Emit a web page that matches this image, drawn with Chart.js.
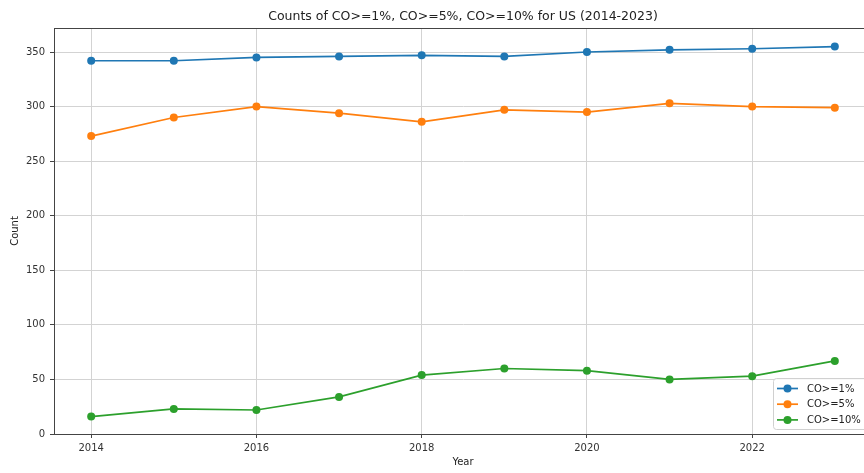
<!DOCTYPE html>
<html>
<head>
<meta charset="utf-8">
<script src="https://cdn.jsdelivr.net/npm/chart.js@4/dist/chart.umd.min.js"></script>
<style>
  html, body { margin: 0; padding: 0; background: #fff; overflow: hidden; }
  #wrap { width: 864px; height: 473px; overflow: hidden; }
  canvas { display: block; }
</style>
</head>
<body>
<div id="wrap"><canvas id="c" width="880" height="473" style="width:880px;height:473px"></canvas></div>
<script>
// Yearly counts by CO threshold, US
const years = [2014, 2015, 2016, 2017, 2018, 2019, 2020, 2021, 2022, 2023];
const co1 = [342, 342, 345, 346, 347, 346, 350, 352, 353, 355];
const co5 = [273, 290, 300, 294, 286, 297, 295, 303, 300, 299];
const co10 = [16, 23, 22, 34, 54, 60, 58, 50, 53, 67];
const seriesLabels = ['CO>=1%', 'CO>=5%', 'CO>=10%'];
const xTicks = [2014, 2016, 2018, 2020, 2022];
const yTicks = [0, 50, 100, 150, 200, 250, 300, 350];

const colors = ['#1f77b4', '#ff7f0e', '#2ca02c'];
const FONT = 'DejaVu Sans';

function pts(vals) { return years.map((x, i) => ({ x: x, y: vals[i] })); }

const datasets = [co1, co5, co10].map((vals, i) => ({
  label: seriesLabels[i],
  data: pts(vals),
  borderColor: colors[i],
  backgroundColor: colors[i],
  borderWidth: 1.7,
  pointRadius: 4,
  pointHoverRadius: 4,
  pointBorderWidth: 0,
  tension: 0
}));

// Frame around the plotting area plus an in-axes legend, matplotlib style
const frameAndLegend = {
  id: 'frameAndLegend',
  afterDraw(chart) {
    const ctx = chart.ctx;
    const a = chart.chartArea;
    ctx.save();
    ctx.strokeStyle = '#444';
    ctx.lineWidth = 1;
    ctx.strokeRect(a.left + 0.5, a.top + 0.5, a.right - a.left, a.bottom - a.top);

    // legend box anchored to lower-right of the axes
    const w = 94, h = 51;
    const x0 = a.right - 5 - w, y0 = a.bottom - 5 - h;
    ctx.fillStyle = 'rgba(255,255,255,0.85)';
    ctx.strokeStyle = '#d0d0d0';
    ctx.beginPath();
    if (ctx.roundRect) ctx.roundRect(x0 + 0.5, y0 + 0.5, w, h, 3); else ctx.rect(x0 + 0.5, y0 + 0.5, w, h);
    ctx.fill();
    ctx.stroke();
    ctx.font = '10px "' + FONT + '"';
    ctx.textBaseline = 'middle';
    ctx.textAlign = 'left';
    chart.data.datasets.forEach((ds, i) => {
      const cy = y0 + 10.5 + i * 15.7;
      ctx.strokeStyle = ds.borderColor;
      ctx.lineWidth = 1.7;
      ctx.beginPath();
      ctx.moveTo(x0 + 4, cy);
      ctx.lineTo(x0 + 25, cy);
      ctx.stroke();
      ctx.fillStyle = ds.backgroundColor;
      ctx.beginPath();
      ctx.arc(x0 + 14.5, cy, 4, 0, Math.PI * 2);
      ctx.fill();
      ctx.fillStyle = '#222';
      ctx.fillText(ds.label, x0 + 34, cy + 0.5);
    });
    ctx.restore();
  }
};

new Chart(document.getElementById('c'), {
  type: 'line',
  data: { datasets: datasets },
  plugins: [frameAndLegend],
  options: {
    responsive: false,
    devicePixelRatio: 1,
    animation: false,
    layout: { padding: { left: 0, right: 8, top: 0, bottom: 0 } },
    plugins: {
      legend: { display: false },
      tooltip: { enabled: false },
      title: {
        display: true,
        fullSize: false,
        text: 'Counts of CO>=1%, CO>=5%, CO>=10% for US (2014-2023)',
        color: '#222',
        font: { family: FONT, size: 12.5, weight: 'normal', lineHeight: 1.2 },
        padding: { top: 9, bottom: 4 }
      }
    },
    scales: {
      x: {
        type: 'linear',
        min: 2013.55,
        max: 2023.45,
        afterBuildTicks(scale) { scale.ticks = xTicks.map(v => ({ value: v })); },
        afterFit(scale) { scale.height = 39; },
        ticks: {
          color: '#333',
          font: { family: FONT, size: 10 },
          padding: 4,
          maxRotation: 0,
          callback: v => String(v)
        },
        grid: { color: '#d3d3d3', lineWidth: 1, tickLength: 4, tickColor: '#444', drawOnChartArea: true },
        border: { display: true, color: '#444', width: 1 },
        title: {
          display: true,
          text: 'Year',
          color: '#222',
          font: { family: FONT, size: 10, lineHeight: 1.2 },
          padding: { top: 0, bottom: 5 }
        }
      },
      y: {
        type: 'linear',
        min: 0,
        max: 372,
        afterBuildTicks(scale) { scale.ticks = yTicks.map(v => ({ value: v })); },
        afterFit(scale) { scale.width = 54; },
        ticks: {
          color: '#333',
          font: { family: FONT, size: 10 },
          padding: 5,
          callback: v => String(v)
        },
        grid: { color: '#d3d3d3', lineWidth: 1, tickLength: 4, tickColor: '#444' },
        border: { display: true, color: '#444', width: 1 },
        title: {
          display: true,
          text: 'Count',
          color: '#222',
          font: { family: FONT, size: 10, lineHeight: 1.2 },
          padding: { top: 9, bottom: 0 }
        }
      }
    }
  }
});
</script>
</body>
</html>
